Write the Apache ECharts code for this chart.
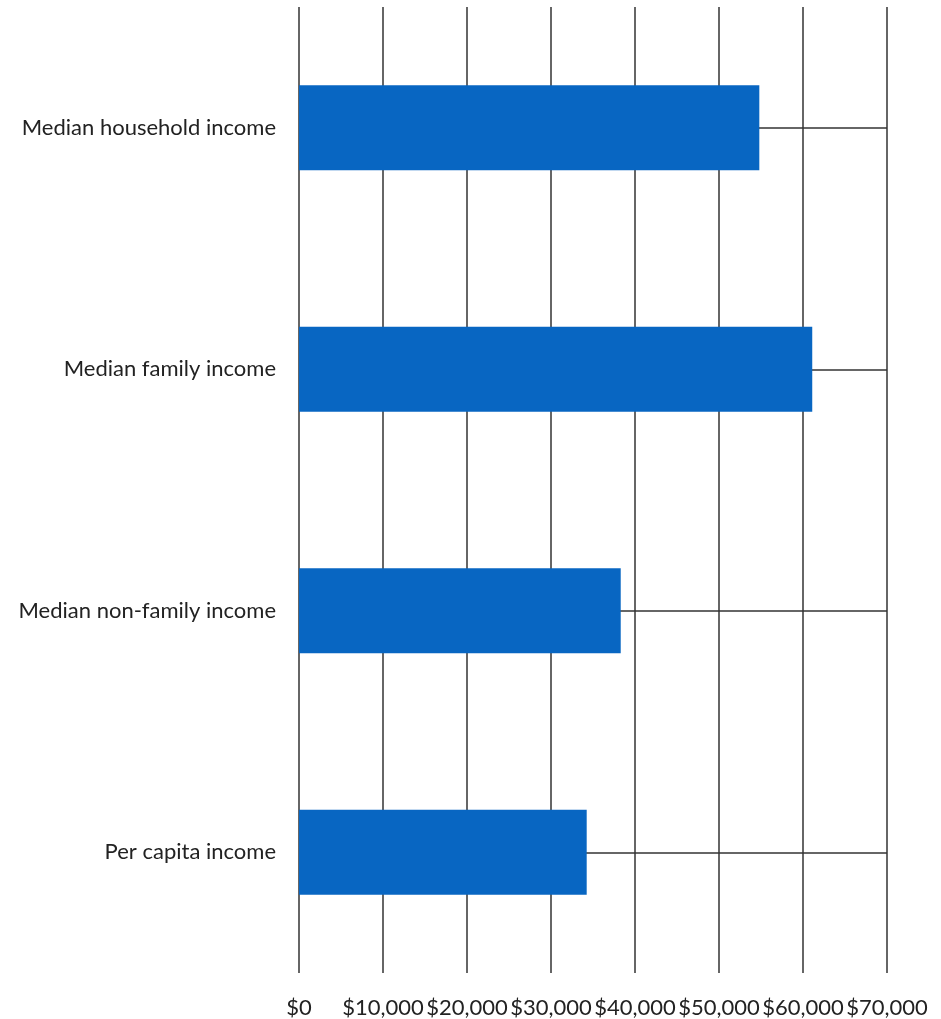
<!DOCTYPE html>
<html>
<head>
<meta charset="utf-8">
<script src="https://cdn.jsdelivr.net/npm/echarts@6/dist/echarts.min.js"></script>
<style>
html,body{margin:0;padding:0;background:#fff;}
#chart{width:941px;height:1019px;}
</style>
</head>
<body>
<div id="chart"></div>
<script>
const categories = ['Median household income', 'Median family income', 'Median non-family income', 'Per capita income'];
const values = [54800, 61100, 38300, 34250];
const tickLabels = ['$0', '$10,000', '$20,000', '$30,000', '$40,000', '$50,000', '$60,000', '$70,000'];

const chart = echarts.init(document.getElementById('chart'));
const font = 'Lato, "Open Sans", sans-serif';
chart.setOption({
  animation: false,
  backgroundColor: '#ffffff',
  grid: { left: 299, right: 54, top: 7, bottom: 46, containLabel: false },
  xAxis: {
    type: 'value', min: 0, max: 70000, interval: 10000,
    axisLine: { show: false }, axisTick: { show: false },
    splitLine: { show: true, lineStyle: { color: '#333333', width: 1.5 } },
    axisLabel: {
      margin: 24, fontSize: 22, color: '#222222', fontFamily: font,
      formatter: v => tickLabels[Math.round(v / 10000)]
    }
  },
  yAxis: {
    type: 'category', data: categories, inverse: true,
    axisLine: { show: false }, axisTick: { show: false },
    splitLine: { show: false },
    axisLabel: { margin: 23, fontSize: 22, color: '#222222', fontFamily: font }
  },
  series: [
    {
      type: 'line', data: [], z: 1, silent: true,
      markLine: {
        z: 1, silent: true, symbol: ['none', 'none'], animation: false,
        label: { show: false },
        lineStyle: { color: '#333333', width: 1.5, type: 'solid' },
        data: categories.map(c => ({ yAxis: c }))
      }
    },
    {
      type: 'bar', data: values, barWidth: 85, z: 10,
      itemStyle: { color: '#0866c2' }
    }
  ]
});
</script>
</body>
</html>
